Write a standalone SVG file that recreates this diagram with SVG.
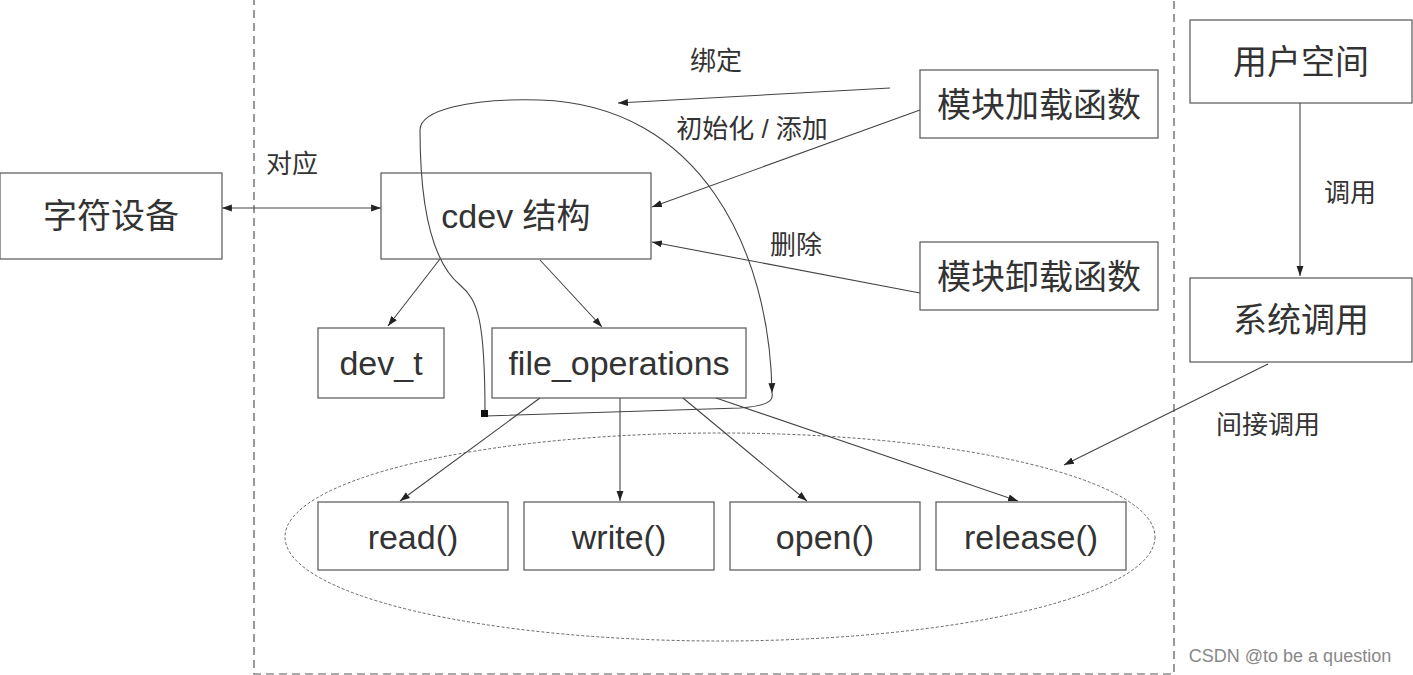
<svg xmlns="http://www.w3.org/2000/svg" width="1413" height="675" viewBox="0 0 1413 675">
<style>
.b{fill:none;stroke:#555;stroke-width:1.2}
.t{font-family:"Liberation Sans","Noto Sans CJK SC",sans-serif;font-size:34px;fill:#333;text-anchor:middle}
.l{font-family:"Liberation Sans","Noto Sans CJK SC",sans-serif;font-size:26px;fill:#333;text-anchor:middle}
.c{fill:none;stroke:#444;stroke-width:1.1}
</style>
<defs>
<marker id="a" viewBox="0 0 10 10" refX="10" refY="5" markerWidth="9" markerHeight="9" orient="auto-start-reverse"><path d="M0,1.5 L10,5 L0,8.5 Z" fill="#222"/></marker>
</defs>
<rect width="1413" height="675" fill="#fff"/>
<rect x="254" y="-2" width="920" height="676" fill="none" stroke="#555" stroke-width="1.2" stroke-dasharray="8,5"/>
<ellipse cx="720" cy="537" rx="435" ry="104" fill="none" stroke="#666" stroke-width="1" stroke-dasharray="3,2"/>
<g id="connectors">
<path class="c" d="M222,208 H381" marker-start="url(#a)" marker-end="url(#a)"/>
<path class="c" d="M440,259 L388,326" marker-end="url(#a)"/>
<path class="c" d="M540,260 L602,327" marker-end="url(#a)"/>
<path class="c" d="M540,398 L400,501" marker-end="url(#a)"/>
<path class="c" d="M620,398 V501" marker-end="url(#a)"/>
<path class="c" d="M683,398 L807,501" marker-end="url(#a)"/>
<path class="c" d="M716,398 L1018,501" marker-end="url(#a)"/>
<path class="c" d="M1300,103 V276" marker-end="url(#a)"/>
<path class="c" d="M1268,364 L1064,465" marker-end="url(#a)"/>
<path class="c" d="M890,88 L618,103" marker-end="url(#a)"/>
<path class="c" d="M920,110 L652,207" marker-end="url(#a)"/>
<path class="c" d="M920,293 L652,242" marker-end="url(#a)"/>
<path class="c" d="M485,413 C485,320 478,300 460,285 C430,260 420,200 420,130 C420,110 470,98 540,100 C700,105 770,250 772,393" marker-end="url(#a)"/>
<path class="c" d="M772,393 C774,402 765,406 740,408 L485,416"/>
<rect x="481" y="410" width="7" height="7" fill="#111"/>
</g>
<g id="n1"><rect class="b" x="0" y="173" width="222" height="86"/><text class="t" x="111" y="228">字符设备</text></g>
<g id="n2"><rect class="b" x="381" y="173" width="270" height="86"/><text class="t" x="516" y="228">cdev 结构</text></g>
<g id="n3"><rect class="b" x="318" y="328" width="126" height="70"/><text class="t" x="381" y="375">dev_t</text></g>
<g id="n4"><rect class="b" x="492" y="328" width="254" height="70"/><text class="t" x="619" y="375">file_operations</text></g>
<g id="n5"><rect class="b" x="920" y="70" width="238" height="68"/><text class="t" x="1039" y="117">模块加载函数</text></g>
<g id="n6"><rect class="b" x="920" y="242" width="238" height="68"/><text class="t" x="1039" y="289">模块卸载函数</text></g>
<g id="n7"><rect class="b" x="1190" y="20" width="222" height="83"/><text class="t" x="1301" y="74">用户空间</text></g>
<g id="n8"><rect class="b" x="1190" y="278" width="222" height="84"/><text class="t" x="1301" y="332">系统调用</text></g>
<g id="n9"><rect class="b" x="318" y="502" width="190" height="68"/><text class="t" x="413" y="549">read()</text></g>
<g id="n10"><rect class="b" x="524" y="502" width="190" height="68"/><text class="t" x="619" y="549">write()</text></g>
<g id="n11"><rect class="b" x="730" y="502" width="190" height="68"/><text class="t" x="825" y="549">open()</text></g>
<g id="n12"><rect class="b" x="936" y="502" width="190" height="68"/><text class="t" x="1031" y="549">release()</text></g>
<text class="l" x="292" y="173">对应</text>
<text class="l" x="716" y="70">绑定</text>
<text class="l" x="752" y="138">初始化 / 添加</text>
<text class="l" x="796" y="254">删除</text>
<text class="l" x="1350" y="202">调用</text>
<text class="l" x="1268" y="434">间接调用</text>
<text x="1290" y="662" style="font-family:'Liberation Sans',sans-serif;font-size:18px;fill:#888;text-anchor:middle">CSDN @to be a question</text>
</svg>
